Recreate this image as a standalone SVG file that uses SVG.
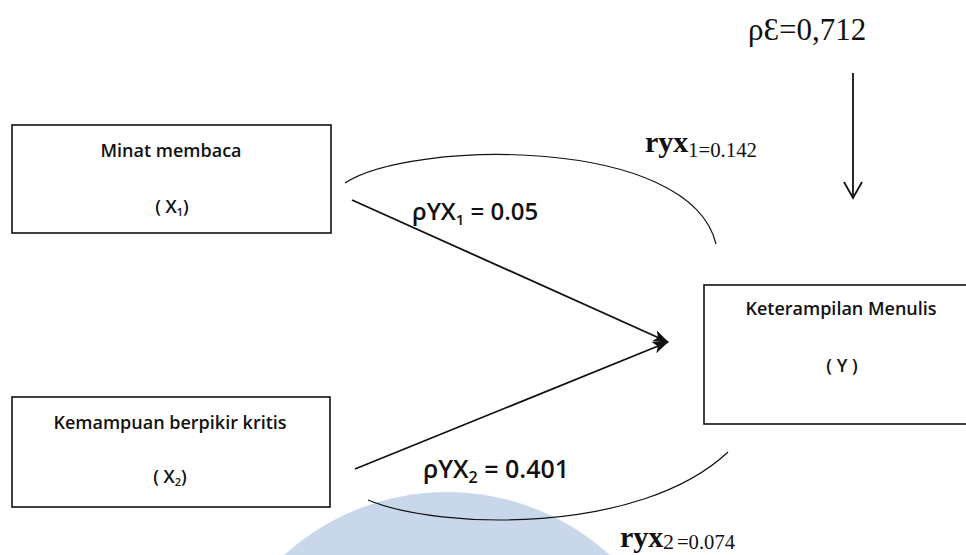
<svg xmlns="http://www.w3.org/2000/svg" width="966" height="555" viewBox="0 0 966 555">
  <style>
    .box { fill: #ffffff; stroke: #111111; stroke-width: 1.6; }
    .lbl { font-family: "Open Sans", "Liberation Sans", sans-serif; font-size: 18px; font-weight: 600; fill: #111111; text-anchor: middle; }
    .coef { font-family: "Open Sans", "Liberation Sans", sans-serif; font-weight: 600; fill: #111111; }
    .serif { font-family: "Liberation Serif", "DejaVu Serif", serif; fill: #111111; }
    .path { fill: none; stroke: #111111; stroke-width: 1.8; }
    .arc { fill: none; stroke: #111111; stroke-width: 1.2; }
  </style>
  <defs>
    <marker id="head" markerWidth="16" markerHeight="12" refX="15" refY="6" orient="auto" markerUnits="userSpaceOnUse">
      <path d="M0,0 L16,6 L0,12 L4,6 Z" fill="#111111"/>
    </marker>
  </defs>

  <rect width="966" height="555" fill="#ffffff"/>

  <!-- pale background emblem -->
  <circle cx="447" cy="734" r="242" fill="#c8d7ea"/>

  <g id="connectors">
    <!-- direct paths to Y -->
    <line class="path" x1="352" y1="200" x2="668" y2="342" marker-end="url(#head)"/>
    <line class="path" x1="355" y1="469" x2="668" y2="342" marker-end="url(#head)"/>
    <!-- correlation arcs -->
    <path class="arc" d="M345,183 C410,140 690,135 716,244"/>
    <path class="arc" d="M368,500 C440,530 640,535 728,452"/>
    <!-- residual arrow -->
    <line class="path" x1="853" y1="73" x2="853" y2="197"/>
    <path class="path" d="M844,182 L853,198 L862,182"/>
  </g>

  <g id="node-x1">
    <rect class="box" x="12" y="125" width="319" height="108"/>
    <text class="lbl" x="171" y="157">Minat membaca</text>
    <text class="lbl" x="172" y="213">( X<tspan font-size="11" dy="3">1</tspan><tspan dy="-3">)</tspan></text>
  </g>

  <g id="node-x2">
    <rect class="box" x="12" y="397" width="318" height="110"/>
    <text class="lbl" x="170" y="429">Kemampuan berpikir kritis</text>
    <text class="lbl" x="170" y="483">( X<tspan font-size="11" dy="3">2</tspan><tspan dy="-3">)</tspan></text>
  </g>

  <g id="node-y">
    <rect class="box" x="704" y="285" width="280" height="139"/>
    <text class="lbl" x="841" y="315">Keterampilan Menulis</text>
    <text class="lbl" x="842" y="372">( Y )</text>
  </g>

  <g id="labels">
    <text class="coef" x="412" y="220" font-size="24">ρYX<tspan font-size="15" dy="5">1</tspan><tspan dy="-5"> = 0.05</tspan></text>
    <text class="coef" x="423" y="478" font-size="25">ρYX<tspan font-size="16" dy="5">2</tspan><tspan dy="-5"> = 0.401</tspan></text>
    <text class="serif" x="748" y="40" font-size="31">ρƐ=0,712</text>
    <text class="serif" x="645" y="152" font-size="30" font-weight="bold">ryx</text>
    <text class="serif" x="688" y="157" font-size="22" textLength="69" lengthAdjust="spacingAndGlyphs">1=0.142</text>
    <text class="serif" x="620" y="547" font-size="30" font-weight="bold">ryx</text>
    <text class="serif" x="663" y="549" font-size="22">2</text>
    <text class="serif" x="677" y="549" font-size="20" textLength="58" lengthAdjust="spacingAndGlyphs">=0.074</text>
  </g>
</svg>
